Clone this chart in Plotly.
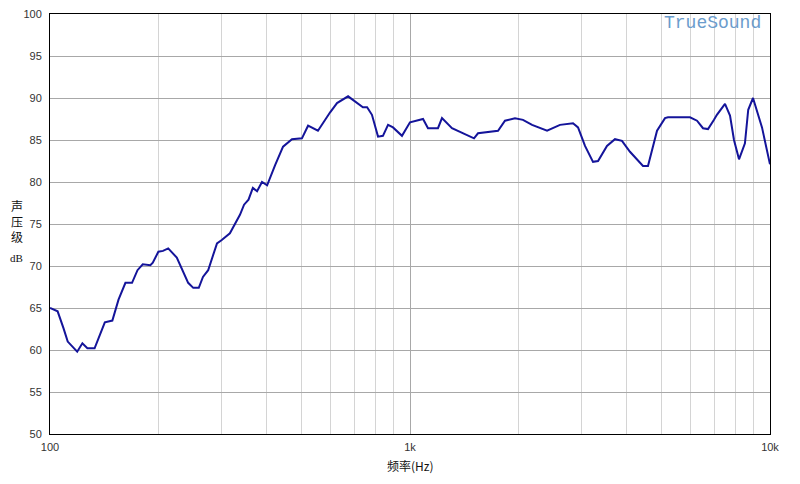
import plotly.graph_objects as go

freq_hz = [100, 105, 109, 112, 119, 123, 127, 133, 142, 149, 155, 162, 169, 175, 181, 190, 193,
           200, 206, 213, 225, 242, 250, 259, 266, 275, 291, 300, 316, 329, 337, 346, 356, 366,
           376, 388, 401, 422, 444, 470, 501, 521, 555, 600, 627, 673, 740, 760, 784, 815, 841,
           869, 897, 950, 1000, 1087, 1122, 1196, 1227, 1308, 1440, 1506, 1545, 1756, 1836, 1957,
           2060, 2183, 2403, 2610, 2837, 2929, 3063, 3224, 3329, 3525, 3710, 3880, 4084, 4438,
           4582, 4855, 5109, 5208, 5995, 6270, 6515, 6727, 6989, 7120, 7499, 7743, 7943, 8202,
           8519, 8700, 8970, 9501, 10000]
spl_db = [65.0, 64.6, 62.6, 61.0, 59.8, 60.8, 60.2, 60.2, 63.3, 63.5, 66.0, 68.0, 68.0, 69.5,
          70.2, 70.1, 70.4, 71.7, 71.8, 72.1, 71.0, 68.0, 67.4, 67.4, 68.7, 69.5, 72.7, 73.1,
          73.9, 75.2, 76.1, 77.3, 77.9, 79.3, 78.9, 80.0, 79.6, 82.0, 84.2, 85.1, 85.2, 86.7,
          86.1, 88.3, 89.4, 90.2, 88.9, 88.9, 88.0, 85.4, 85.5, 86.8, 86.5, 85.5, 87.1, 87.5,
          86.4, 86.4, 87.6, 86.4, 85.6, 85.2, 85.8, 86.1, 87.3, 87.6, 87.4, 86.8, 86.1, 86.8,
          87.0, 86.5, 84.3, 82.4, 82.5, 84.3, 85.1, 84.9, 83.6, 81.9, 81.9, 86.1, 87.6, 87.7,
          87.7, 87.3, 86.4, 86.3, 87.4, 88.0, 89.3, 87.9, 85.0, 82.7, 84.6, 88.6, 90.0, 86.5, 82.1]

x_tick_vals = [100, 1000, 10000]
x_tick_text = ["100", "1k", "10k"]
x_minor_vals = [200, 300, 400, 500, 600, 700, 800, 900,
                2000, 3000, 4000, 5000, 6000, 7000, 8000, 9000]
y_tick_vals = list(range(50, 101, 5))

fig = go.Figure()
fig.add_trace(go.Scatter(x=freq_hz, y=spl_db, mode="lines",
                         line=dict(color="#14149a", width=2), showlegend=False,
                         hoverinfo="skip"))

fig.update_layout(
    width=800, height=484,
    margin=dict(l=42, r=38, t=6, b=58),
    paper_bgcolor="white", plot_bgcolor="white",
    font=dict(family="Liberation Sans, Arial", size=11, color="#333333"),
    xaxis=dict(type="log", range=[2, 4], tickvals=x_tick_vals, ticktext=x_tick_text,
               showgrid=True, gridcolor="#a8a8a8", gridwidth=1,
               minor=dict(tickvals=x_minor_vals, showgrid=True, gridcolor="#d4d4d4",
                          gridwidth=1, ticks=""),
               showline=True, linecolor="black", linewidth=1, mirror=True,
               ticks="", zeroline=False, ticklabelstandoff=3, automargin=False,
               ticklabeloverflow="allow"),
    yaxis=dict(range=[50, 100], tickvals=y_tick_vals,
               showgrid=True, gridcolor="#a8a8a8", gridwidth=1,
               showline=True, linecolor="black", linewidth=1, mirror=True,
               ticks="", zeroline=False, ticklabelstandoff=5, automargin=False,
               ticklabeloverflow="allow"),
    annotations=[
        dict(text="频率(Hz)", xref="paper", yref="paper", x=0.5, y=-0.076,
             showarrow=False, yanchor="middle",
             font=dict(family="Noto Sans CJK SC", size=12, color="#111111")),
        dict(text="声<br>压<br>级", xref="paper", yref="paper", x=-0.046, y=0.507,
             showarrow=False, xanchor="center", yanchor="middle",
             font=dict(family="Noto Sans CJK SC", size=12, color="#111111")),
        dict(text="dB", xref="paper", yref="paper", x=-0.046, y=0.419,
             showarrow=False, xanchor="center", yanchor="middle",
             font=dict(family="Liberation Serif", size=11, color="#111111")),
        dict(text="TrueSound", xref="paper", yref="paper", x=0.990, y=0.979,
             showarrow=False, xanchor="right", yanchor="middle",
             font=dict(family="Liberation Mono, Courier New", size=18, color="#6b9ccc")),
    ],
)

fig.write_html("out.html")
